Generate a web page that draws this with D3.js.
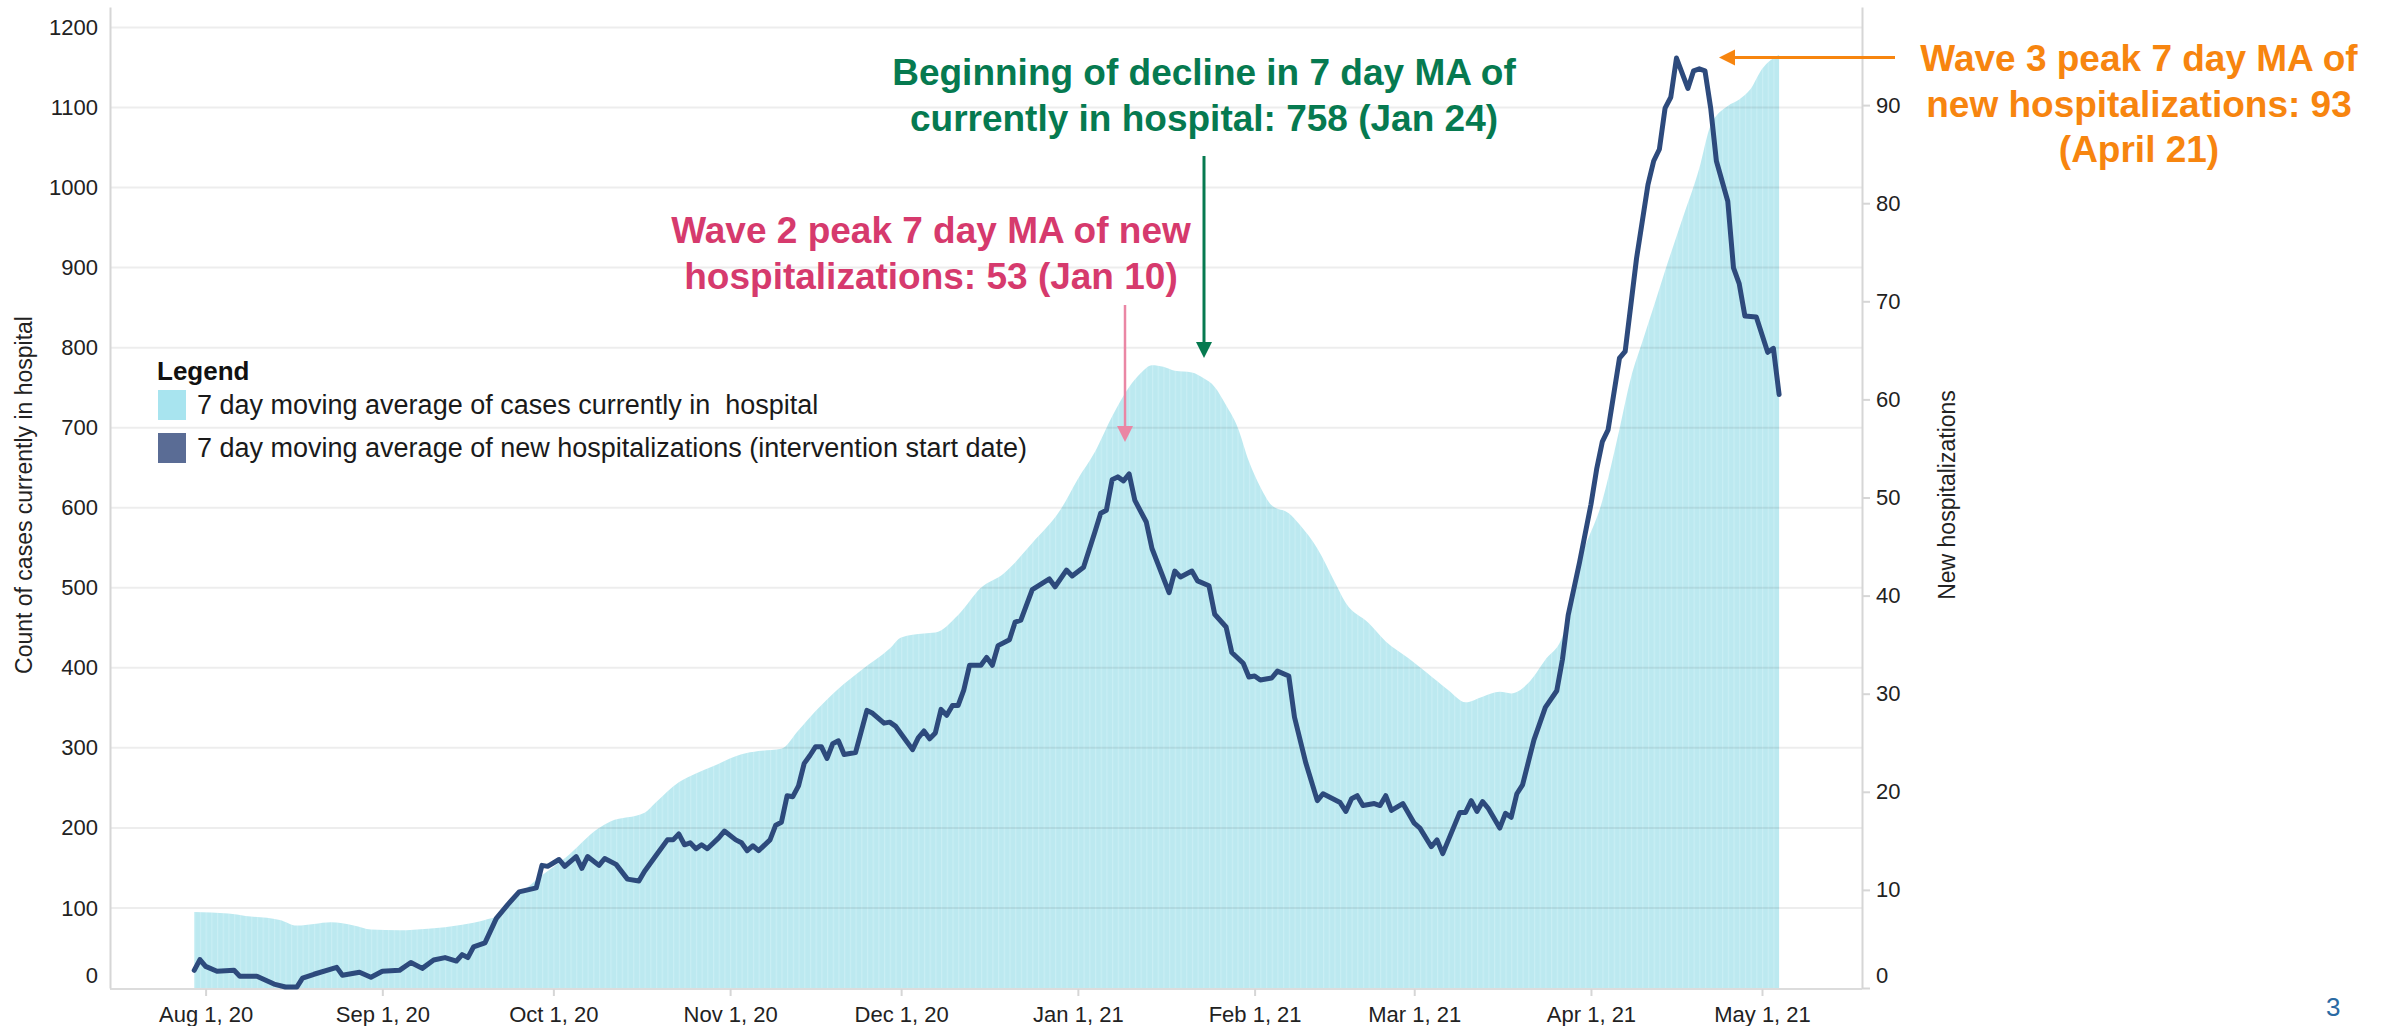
<!DOCTYPE html>
<html lang="en">
<head>
<meta charset="UTF-8">
<title>Hospital census and new hospitalizations</title>
<script src="https://d3js.org/d3.v7.min.js"></script>
<style>
  body { margin: 0; background: #fff; }
  svg { display: block; font-family: "Liberation Sans", Arial, sans-serif; }
  .axis text { font-size: 22px; fill: #222; }
  .axis path, .axis line { stroke: #d6d6d6; stroke-width: 2; }
</style>
</head>
<body>
<script>
// 7 day moving average of cases currently in hospital (left axis)
const censusDates = ["2020-07-30","2020-08-05","2020-08-08","2020-08-14","2020-08-17","2020-08-20","2020-08-23","2020-08-27","2020-08-30",
  "2020-09-04","2020-09-09","2020-09-15","2020-09-19","2020-09-22","2020-09-24","2020-09-28",
  "2020-10-03","2020-10-09","2020-10-11","2020-10-17","2020-10-19","2020-10-23","2020-10-26","2020-10-29",
  "2020-11-03","2020-11-06","2020-11-10","2020-11-13","2020-11-16","2020-11-20","2020-11-24","2020-11-29",
  "2020-12-01","2020-12-05","2020-12-07","2020-12-11","2020-12-15","2020-12-19","2020-12-24","2020-12-29",
  "2021-01-01","2021-01-04","2021-01-07","2021-01-10","2021-01-12","2021-01-14","2021-01-16","2021-01-18","2021-01-21","2021-01-23","2021-01-25","2021-01-27","2021-01-29","2021-01-31",
  "2021-02-02","2021-02-04","2021-02-07","2021-02-09","2021-02-12","2021-02-15","2021-02-17","2021-02-21","2021-02-24","2021-02-28",
  "2021-03-03","2021-03-07","2021-03-10","2021-03-13","2021-03-16","2021-03-18","2021-03-21","2021-03-24","2021-03-27","2021-03-30",
  "2021-04-03","2021-04-06","2021-04-08","2021-04-10","2021-04-12","2021-04-14","2021-04-17","2021-04-20","2021-04-22","2021-04-25","2021-04-27","2021-04-29",
  "2021-05-01","2021-05-04"];
const censusValues = [95,93,90,85,78,80,82,78,73,
  72,74,79,85,93,109,135,
  162,200,208,219,232,257,268,277,
  292,296,299,322,346,374,397,424,
  438,443,444,466,500,518,556,598,
  636,670,714,751,768,778,776,771,769,762,751,728,701,658,
  626,603,593,578,549,508,481,456,433,412,
  395,372,357,364,370,368,381,410,439,530,
  609,698,762,807,851,896,960,1024,1078,1102,1110,1123,
  1148,1166];

// 7 day moving average of new hospitalizations (right axis)
const newDates = ["2020-07-30","2020-07-31","2020-08-01","2020-08-03","2020-08-06","2020-08-07","2020-08-10","2020-08-13","2020-08-15","2020-08-17","2020-08-18","2020-08-20","2020-08-24","2020-08-25","2020-08-28","2020-08-30",
  "2020-09-01","2020-09-04","2020-09-06","2020-09-08","2020-09-10","2020-09-12","2020-09-14","2020-09-15","2020-09-16","2020-09-17","2020-09-19","2020-09-21","2020-09-23","2020-09-25","2020-09-28","2020-09-29","2020-09-30",
  "2020-10-02","2020-10-03","2020-10-05","2020-10-06","2020-10-07","2020-10-09","2020-10-10","2020-10-12","2020-10-14","2020-10-16","2020-10-17","2020-10-19","2020-10-21","2020-10-22","2020-10-23","2020-10-24","2020-10-25","2020-10-26","2020-10-27","2020-10-28","2020-10-30","2020-10-31",
  "2020-11-02","2020-11-03","2020-11-04","2020-11-05","2020-11-06","2020-11-08","2020-11-09","2020-11-10","2020-11-11","2020-11-12","2020-11-13","2020-11-14","2020-11-15","2020-11-16","2020-11-17","2020-11-18","2020-11-19","2020-11-20","2020-11-21","2020-11-23","2020-11-25","2020-11-26","2020-11-28","2020-11-29","2020-11-30",
  "2020-12-02","2020-12-03","2020-12-04","2020-12-05","2020-12-06","2020-12-07","2020-12-08","2020-12-09","2020-12-10","2020-12-11","2020-12-12","2020-12-13","2020-12-15","2020-12-16","2020-12-17","2020-12-18","2020-12-20","2020-12-21","2020-12-22","2020-12-24","2020-12-27","2020-12-28","2020-12-30","2020-12-31",
  "2021-01-02","2021-01-04","2021-01-05","2021-01-06","2021-01-07","2021-01-08","2021-01-09","2021-01-10","2021-01-11","2021-01-13","2021-01-14","2021-01-17","2021-01-18","2021-01-19","2021-01-21","2021-01-22","2021-01-24","2021-01-25","2021-01-27","2021-01-28","2021-01-30","2021-01-31",
  "2021-02-01","2021-02-02","2021-02-04","2021-02-05","2021-02-07","2021-02-08","2021-02-10","2021-02-12","2021-02-13","2021-02-16","2021-02-17","2021-02-18","2021-02-19","2021-02-20","2021-02-22","2021-02-23","2021-02-24","2021-02-25","2021-02-27",
  "2021-03-01","2021-03-02","2021-03-04","2021-03-05","2021-03-06","2021-03-09","2021-03-10","2021-03-11","2021-03-12","2021-03-13","2021-03-14","2021-03-16","2021-03-17","2021-03-18","2021-03-19","2021-03-20","2021-03-22","2021-03-24","2021-03-26","2021-03-27","2021-03-28","2021-03-30",
  "2021-04-01","2021-04-02","2021-04-03","2021-04-04","2021-04-06","2021-04-07","2021-04-09","2021-04-11","2021-04-12","2021-04-13","2021-04-14","2021-04-15","2021-04-16","2021-04-18","2021-04-19","2021-04-20","2021-04-21","2021-04-22","2021-04-23","2021-04-25","2021-04-26","2021-04-27","2021-04-28","2021-04-30",
  "2021-05-02","2021-05-03","2021-05-04"];
const newValues = [1.8,2.9,2.2,1.7,1.8,1.2,1.2,0.4,0.1,0.1,1.0,1.4,2.1,1.3,1.6,1.1,
  1.7,1.8,2.6,2.0,2.85,3.1,2.75,3.4,3.1,4.2,4.6,7.1,8.5,9.8,10.2,12.5,12.4,
  13.1,12.4,13.4,12.2,13.4,12.5,13.2,12.6,11.1,10.9,11.9,13.5,15.1,15.1,15.7,14.6,14.8,14.2,14.6,14.2,15.3,16.0,
  15.1,14.8,14.0,14.5,14.0,15.1,16.6,16.9,19.6,19.5,20.6,22.9,23.7,24.6,24.6,23.4,24.9,25.2,23.8,24.0,28.3,28.0,27.0,27.1,26.7,
  25.1,24.3,25.5,26.2,25.4,26.0,28.4,27.8,28.8,28.8,30.4,32.9,32.9,33.7,32.9,34.9,35.5,37.3,37.5,40.6,41.7,40.9,42.6,42.0,
  42.9,46.5,48.4,48.7,51.8,52.1,51.7,52.4,49.7,47.5,44.8,40.3,42.5,41.9,42.5,41.5,41.0,38.1,36.8,34.2,33.1,31.7,
  31.8,31.4,31.6,32.3,31.8,27.6,22.9,19.1,19.8,18.9,18.0,19.3,19.6,18.6,18.8,18.6,19.6,18.1,18.8,
  16.8,16.3,14.4,15.1,13.7,17.9,17.9,19.1,18.0,19.0,18.3,16.3,17.8,17.4,19.8,20.7,25.3,28.6,30.3,33.5,38.0,43.4,
  49.3,52.9,55.7,56.9,64.2,64.9,74.4,81.9,84.3,85.5,89.7,90.8,94.8,91.7,93.5,93.7,93.5,89.7,84.3,80.2,73.4,71.8,68.5,68.4,
  64.8,65.2,60.5];

const monthTicks = ["2020-08-01","2020-09-01","2020-10-01","2020-11-01","2020-12-01","2021-01-01","2021-02-01","2021-03-01","2021-04-01","2021-05-01"];
const leftTicks = [0,100,200,300,400,500,600,700,800,900,1000,1100,1200];
const rightTicks = [0,10,20,30,40,50,60,70,80,90];

const legendItems = [
  {label: "7 day moving average of cases currently in  hospital", color: "#a8e4ef"},
  {label: "7 day moving average of new hospitalizations (intervention start date)", color: "#5a6c95"}
];

const annotations = [
  {lines: ["Beginning of decline in 7 day MA of", "currently in hospital: 758 (Jan 24)"], color: "#067a50", x: 1204, y: 85},
  {lines: ["Wave 2 peak 7 day MA of new", "hospitalizations: 53 (Jan 10)"], color: "#d63a6d", x: 931, y: 243},
  {lines: ["Wave 3 peak 7 day MA of", "new hospitalizations: 93", "(April 21)"], color: "#f7850f", x: 2139, y: 71}
];

const W = 2390, H = 1026;
const plot = {left: 110, right: 1862, top: 7, bottom: 988};
const parse = d3.utcParse("%Y-%m-%d");

const census = censusDates.map((d, i) => ({date: parse(d), value: censusValues[i]}));
const newHosp = newDates.map((d, i) => ({date: parse(d), value: newValues[i]}));

const x = d3.scaleUtc()
  .domain([parse("2020-08-01"), parse("2021-05-01")])
  .range([205.6, 1762]);
const yL = d3.scaleLinear().domain([0, 1225.6]).range([plot.bottom, plot.top]);
const yR = d3.scaleLinear().domain([0, 100]).range([plot.bottom, plot.top]);

const svg = d3.select("body").append("svg")
  .attr("width", W)
  .attr("height", H);

// vertical stripe pattern, one stripe per day, like the bar rendering of the area
const dayW = x(parse("2020-08-02")) - x(parse("2020-08-01"));
const pat = svg.append("defs").append("pattern")
  .attr("id", "days")
  .attr("patternUnits", "userSpaceOnUse")
  .attr("x", x(parse("2020-08-01")))
  .attr("y", 0)
  .attr("width", dayW)
  .attr("height", H);
pat.append("rect").attr("width", dayW).attr("height", H).attr("fill", "#bce9f0");
pat.append("rect").attr("width", 1.2).attr("height", H).attr("fill", "#c9eef4");

// area
const area = d3.area()
  .x(d => x(d.date))
  .y0(yL(0))
  .y1(d => yL(d.value))
  .curve(d3.curveMonotoneX);

svg.append("path")
  .datum(census)
  .attr("d", area)
  .attr("fill", "url(#days)");

// gridlines
svg.append("g")
  .selectAll("line")
  .data(leftTicks.filter(d => d > 0))
  .join("line")
  .attr("x1", plot.left)
  .attr("x2", plot.right)
  .attr("y1", d => yL(d))
  .attr("y2", d => yL(d))
  .attr("stroke", "#000")
  .attr("stroke-opacity", 0.07)
  .attr("stroke-width", 2);

// baseline
svg.append("line")
  .attr("x1", plot.left).attr("x2", plot.right)
  .attr("y1", plot.bottom + 1).attr("y2", plot.bottom + 1)
  .attr("stroke", "#dcdcdc").attr("stroke-width", 2);

// axes
const gL = svg.append("g")
  .attr("class", "axis")
  .attr("transform", `translate(${plot.left},0)`)
  .call(d3.axisLeft(yL).tickValues(leftTicks).tickFormat(d3.format("d")).tickSize(0).tickPadding(12));
gL.selectAll(".tick text").filter(d => d === 0).attr("transform", "translate(0,-13)");

const gR = svg.append("g")
  .attr("class", "axis")
  .attr("transform", `translate(${plot.right},0)`)
  .call(d3.axisRight(yR).tickValues(rightTicks).tickFormat(d3.format("d")).tickSizeInner(8).tickSizeOuter(0).tickPadding(6));
gR.selectAll(".tick text").filter(d => d === 0).attr("transform", "translate(0,-13)");

svg.append("g")
  .attr("class", "axis")
  .attr("transform", `translate(0,${plot.bottom + 1})`)
  .call(d3.axisBottom(x)
    .tickValues(monthTicks.map(parse))
    .tickFormat(d3.utcFormat("%b %-d, %y"))
    .tickSizeInner(7).tickSizeOuter(0).tickPadding(10))
  .call(g => g.select(".domain").remove());

// axis titles
svg.append("text")
  .attr("transform", "translate(32,495) rotate(-90)")
  .attr("text-anchor", "middle")
  .style("font-size", "23px")
  .attr("fill", "#222")
  .text("Count of cases currently in hospital");

svg.append("text")
  .attr("transform", "translate(1955,495) rotate(-90)")
  .attr("text-anchor", "middle")
  .style("font-size", "23px")
  .attr("fill", "#222")
  .text("New hospitalizations");

// line
const line = d3.line()
  .x(d => x(d.date))
  .y(d => yR(d.value));

svg.append("path")
  .datum(newHosp)
  .attr("d", line)
  .attr("fill", "none")
  .attr("stroke", "#2d4a7c")
  .attr("stroke-width", 5)
  .attr("stroke-linejoin", "round")
  .attr("stroke-linecap", "round");

// legend
const lg = svg.append("g").attr("transform", "translate(157,0)");
lg.append("text")
  .attr("x", 0).attr("y", 380)
  .style("font-size", "26px").style("font-weight", "bold")
  .attr("fill", "#111")
  .text("Legend");
const li = lg.selectAll(".li").data(legendItems).join("g")
  .attr("transform", (d, i) => `translate(0,${390 + i * 43})`);
li.append("rect").attr("x", 1).attr("width", 28).attr("height", 30).attr("fill", d => d.color);
li.append("text")
  .attr("x", 40).attr("y", 24)
  .style("font-size", "27px")
  .style("white-space", "pre")
  .attr("xml:space", "preserve")
  .attr("fill", "#1a1a1a")
  .text(d => d.label);

// annotations
annotations.forEach(a => {
  const t = svg.append("text")
    .attr("text-anchor", "middle")
    .style("font-size", "37px").style("font-weight", "bold")
    .attr("fill", a.color);
  a.lines.forEach((s, i) => {
    t.append("tspan").attr("x", a.x).attr("y", a.y + i * 45.5).text(s);
  });
});

// arrows
function arrow(x1, y1, x2, y2, color, w) {
  const ang = Math.atan2(y2 - y1, x2 - x1);
  const len = 16, half = 8;
  const bx = x2 - len * Math.cos(ang), by = y2 - len * Math.sin(ang);
  svg.append("line")
    .attr("x1", x1).attr("y1", y1).attr("x2", bx).attr("y2", by)
    .attr("stroke", color).attr("stroke-width", w);
  svg.append("path")
    .attr("d", `M${x2},${y2}L${bx - half * Math.sin(ang)},${by + half * Math.cos(ang)}L${bx + half * Math.sin(ang)},${by - half * Math.cos(ang)}Z`)
    .attr("fill", color);
}
arrow(1204, 156, 1204, 358, "#067a50", 3);
arrow(1125, 305, 1125, 442, "#ea86a4", 2.5);
arrow(1895, 57.5, 1719, 57.5, "#f7850f", 3);

// slide page number
svg.append("text")
  .attr("x", 2326).attr("y", 1016)
  .style("font-size", "26px")
  .attr("fill", "#2a6aa3")
  .text("3");
</script>
</body>
</html>
